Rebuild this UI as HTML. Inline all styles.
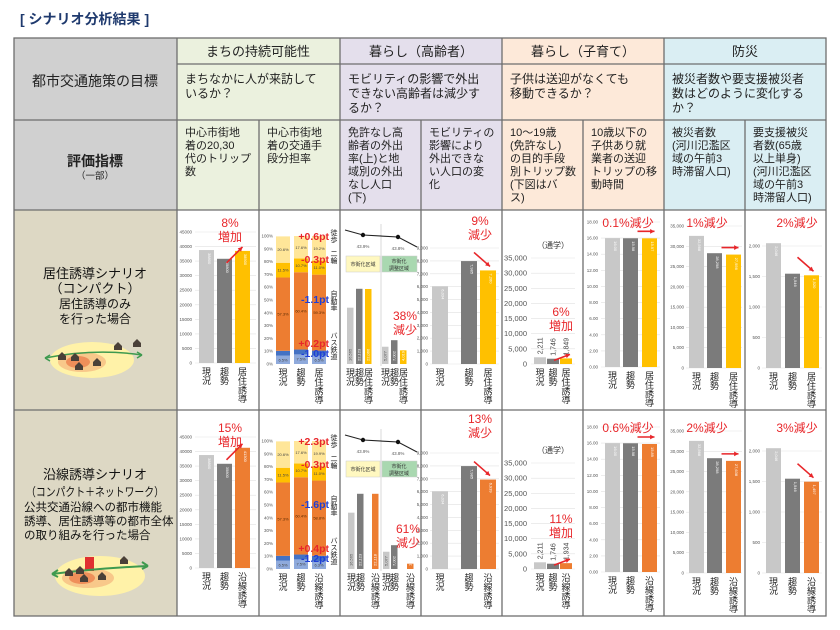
<!DOCTYPE html>
<html><head><meta charset="utf-8">
<style>
html,body{margin:0;padding:0;background:#fff;}
svg{display:block;font-family:"Liberation Sans","Noto Sans CJK JP",sans-serif;}
</style></head>
<body>
<svg id="root" width="840" height="630" viewBox="0 0 840 630" xmlns="http://www.w3.org/2000/svg">
<text x="20" y="24" font-size="14" font-weight="bold" fill="#1f3a6e">[ シナリオ分析結果 ]</text>
<g>
<rect x="14" y="38" width="163" height="172" fill="#d0d0d0"/>
<rect x="14" y="210" width="163" height="406" fill="#ddd8c4"/>
<rect x="177" y="38" width="163" height="172" fill="#ebf1de"/>
<rect x="340" y="38" width="162" height="172" fill="#e4dfec"/>
<rect x="502" y="38" width="162" height="172" fill="#fde9d9"/>
<rect x="664" y="38" width="162" height="172" fill="#daeef3"/>
</g>
<g stroke="#6e6e6e" stroke-width="1.3" fill="none">
<rect x="14" y="38" width="812" height="578"/>
<line x1="177" y1="64" x2="826" y2="64"/>
<line x1="14" y1="120" x2="826" y2="120"/>
<line x1="14" y1="210" x2="826" y2="210"/>
<line x1="14" y1="410" x2="826" y2="410"/>
<line x1="177" y1="38" x2="177" y2="616"/>
<line x1="340" y1="38" x2="340" y2="616"/>
<line x1="502" y1="38" x2="502" y2="616"/>
<line x1="664" y1="38" x2="664" y2="616"/>
<line x1="259" y1="120" x2="259" y2="616"/>
<line x1="421" y1="120" x2="421" y2="616"/>
<line x1="583" y1="120" x2="583" y2="616"/>
<line x1="745" y1="120" x2="745" y2="616"/>
</g>
<g fill="#222">
<text x="95" y="86" font-size="14" text-anchor="middle">都市交通施策の目標</text>
<text x="95" y="166" font-size="14" font-weight="bold" text-anchor="middle">評価指標</text>
<text x="95" y="179" font-size="9.5" text-anchor="middle">（一部）</text>
<text x="258" y="56" font-size="13" text-anchor="middle">まちの持続可能性</text>
<text x="421" y="56" font-size="13" text-anchor="middle">暮らし（高齢者）</text>
<text x="583" y="56" font-size="13" text-anchor="middle">暮らし（子育て）</text>
<text x="745" y="56" font-size="13" text-anchor="middle">防災</text>
</g>
<g id="texts" font-size="12" fill="#222"></g>
<g fill="#111">
<text x="95" y="278" font-size="13" text-anchor="middle">居住誘導シナリオ</text>
<text x="95" y="293" font-size="13" text-anchor="middle">（コンパクト）</text>
<text x="95" y="308" font-size="12" text-anchor="middle">居住誘導のみ</text>
<text x="95" y="323" font-size="12" text-anchor="middle">を行った場合</text>
<text x="95" y="479" font-size="13" text-anchor="middle">沿線誘導シナリオ</text>
<text x="26" y="496" font-size="12" textLength="138" lengthAdjust="spacingAndGlyphs">（コンパクト＋ネットワーク）</text>
<text x="24" y="511" font-size="11.5">公共交通沿線への都市機能</text>
<text x="24" y="525" font-size="11.5">誘導、居住誘導等の都市全体</text>
<text x="24" y="539" font-size="11.5">の取り組みを行った場合</text>
</g>
<g>
<ellipse cx="92" cy="360" rx="42" ry="18" fill="#fff2a8"/>
<ellipse cx="82" cy="362" rx="24" ry="10" fill="#f8c88a"/>
<ellipse cx="78" cy="362" rx="12" ry="6" fill="#ef8f5a"/>
<path d="M45 358 Q95 348 142 355" stroke="#3e9a4f" stroke-width="1.5" fill="none"/>
<path d="M45 358 l5 -3 m-5 3 l5 3 M142 355 l-5 -3 m5 3 l-5 3" stroke="#3e9a4f" stroke-width="1.5"/>
<g fill="#4a4038"><path d="M58 356 l4 -4 4 4 v4 h-8z"/><path d="M71 357 l4 -4 4 4 v4 h-8z"/><path d="M75 366 l4 -4 4 4 v4 h-8z"/><path d="M93 362 l4 -4 4 4 v4 h-8z"/><path d="M114 346 l4 -4 4 4 v4 h-8z"/><path d="M133 343 l4 -4 4 4 v4 h-8z"/></g>
</g>
<g>
<ellipse cx="100" cy="576" rx="45" ry="20" fill="#fff2a8"/>
<ellipse cx="88" cy="578" rx="26" ry="10" fill="#f8c88a"/>
<ellipse cx="82" cy="578" rx="13" ry="6" fill="#ef8f5a"/>
<rect x="85" y="557" width="9" height="14" fill="#e03030"/>
<path d="M52 574 Q100 568 148 566" stroke="#3e9a4f" stroke-width="2" fill="none"/>
<path d="M52 574 l6 -4 m-6 4 l6 3 M148 566 l-6 -4 m6 4 l-6 3" stroke="#3e9a4f" stroke-width="2"/>
<g fill="#4a4038"><path d="M65 572 l4 -4 4 4 v4 h-8z"/><path d="M76 570 l4 -4 4 4 v4 h-8z"/><path d="M80 578 l4 -4 4 4 v4 h-8z"/><path d="M98 576 l4 -4 4 4 v4 h-8z"/><path d="M120 560 l4 -4 4 4 v4 h-8z"/></g>
</g>
<g id="charts"></g>
</svg>
<script>
// ---- data ----
const barCats = ['現況','趨勢'];
const thirdCatS1 = '居住誘導';
const thirdCatS2 = '沿線誘導';
const tripsS1 = [38800, 35800, 38500];
const tripsS2 = [38800, 35800, 41300];
const tripsTicks = [0,5000,10000,15000,20000,25000,30000,35000,40000,45000];
const modeNames = ['鉄道','バス','自動車','二輪','徒歩'];
const modeS1 = [[6.5,3.8,57.3,11.5,20.6],[7.5,3.8,60.4,10.7,17.6],[6.5,4.0,59.3,11.0,19.2]];
const modeS2 = [[6.5,3.8,57.3,11.5,20.6],[7.5,3.8,60.4,10.7,17.6],[6.3,4.0,58.8,11.0,19.9]];
const modeTicks = [0,10,20,30,40,50,60,70,80,90,100];
const outRate = [43.9, 43.8];
const urbanS1 = [16565, 22123, 22066];
const adjustS1 = [5077, 7002, 4019];
const urbanS2 = [16565, 22123, 22118];
const adjustS2 = [5077, 7002, 1560];
const noOutS1 = [6034, 7985, 7260];
const noOutS2 = [6034, 7985, 6939];
const noOutTicks = [0,1000,2000,3000,4000,5000,6000,7000,8000,9000];
const schoolS1 = [2211, 1746, 1849];
const schoolS2 = [2211, 1746, 1934];
const schoolTicks = [0,5000,10000,15000,20000,25000,30000,35000];
const pickupS1 = [16.00, 15.98, 15.97];
const pickupS2 = [16.00, 15.98, 15.89];
const pickupTicks = [0,2,4,6,8,10,12,14,16,18];
const victimS1 = [32568, 28298, 27956];
const victimS2 = [32568, 28298, 27638];
const victimTicks = [0,5000,10000,15000,20000,25000,30000,35000];
const supportS1 = [2046, 1546, 1520];
const supportS2 = [2046, 1546, 1497];
const supportTicks = [0,500,1000,1500,2000];
const notesS1 = ['8%|増加','9%|減少','38%|減少','6%|増加','0.1%減少','1%減少','2%減少'];
const notesS2 = ['15%|増加','13%|減少','61%|減少','11%|増加','0.6%減少','2%減少','3%減少'];
const modeNotesS1 = ['+0.6pt','-0.3pt','-1.1pt','+0.2pt','-1.0pt'];
const modeNotesS2 = ['+2.3pt','-0.3pt','-1.6pt','+0.4pt','-1.2pt'];

const NS = 'http://www.w3.org/2000/svg';
const root = document.getElementById('charts');
function el(tag, attrs, parent){ const e=document.createElementNS(NS,tag); for(const k in attrs) e.setAttribute(k,attrs[k]); (parent||root).appendChild(e); return e; }
const comma = v => v.toLocaleString('en-US');
const C_NOW='#c8c8c8', C_TREND='#7b7b7b', C_S1='#ffc000', C_S2='#ed7d31', RED='#e8262a';

// ---- header texts ----
const tg = document.getElementById('texts');
const goals = [
 [185,['まちなかに人が来訪して','いるか？']],
 [348,['モビリティの影響で外出','できない高齢者は減少す','るか？']],
 [510,['子供は送迎がなくても','移動できるか？']],
 [672,['被災者数や要支援被災者','数はどのように変化する','か？']]];
goals.forEach(g=>{ g[1].forEach((s,i)=>{ const t=el('text',{x:g[0],y:83+i*14.5,'font-size':12},tg); t.textContent=s;
 
  }); });
const inds = [
 [185,['中心市街地','着の20,30','代のトリップ','数']],
 [267,['中心市街地','着の交通手','段分担率']],
 [348,['免許なし高','齢者の外出','率(上)と地','域別の外出','なし人口','(下)']],
 [429,['モビリティの','影響により','外出できな','い人口の変','化']],
 [510,['10～19歳','(免許なし)','の目的手段','別トリップ数','(下図はバ','ス)']],
 [591,['10歳以下の','子供あり就','業者の送迎','トリップの移','動時間']],
 [672,['被災者数','(河川氾濫区','域の午前3','時滞留人口)']],
 [753,['要支援被災','者数(65歳','以上単身)','(河川氾濫区','域の午前3','時滞留人口)']]];
inds.forEach(g=>{ g[1].forEach((s,i)=>{ const t=el('text',{x:g[0],y:136+i*13,'font-size':11},tg); t.textContent=s;
 
  }); });

function vtext(cx, y0, str, step, fs, parent){
  [...str].forEach((ch,i)=>{ const t=el('text',{x:cx,y:y0+i*step,'font-size':fs,'text-anchor':'middle',fill:'#222'},parent); t.textContent=ch;
    
     });
}
function note(x, y, str, parent, size){
  str.split('|').forEach((s,i)=>{ const t=el('text',{x:x,y:y+i*14,'font-size':size||12,'text-anchor':'middle',fill:RED},parent); t.textContent=s;
    
     });
}
function arrow(x1,y1,x2,y2,parent){
  const a=el('line',{x1:x1,y1:y1,x2:x2,y2:y2,stroke:RED,'stroke-width':1.6},parent);
  
  
  const ang=Math.atan2(y2-y1,x2-x1), L=5;
  const p=el('polygon',{points:`${x2},${y2} ${x2-L*Math.cos(ang-0.5)},${y2-L*Math.sin(ang-0.5)} ${x2-L*Math.cos(ang+0.5)},${y2-L*Math.sin(ang+0.5)}`,fill:RED},parent);
  
  
}

function barChart(o){
  const g=el('g',{});
  
  
  const ymax=o.ticks[o.ticks.length-1];
  const y=v=>o.bottom-v/ymax*(o.bottom-o.top);
  o.ticks.forEach(tv=>{
    const ln=el('line',{x1:o.gx1,x2:o.gx2,y1:y(tv),y2:y(tv),stroke:'#e2e2e2','stroke-width':0.6},g);
    
    
    const t=el('text',{x:o.lx,y:y(tv)+(o.tfs||4.5)/3,'font-size':o.tfs||4.5,'text-anchor':'end',fill:'#555'},g);
    t.textContent=o.fmt(tv);
    
    
  });
  const cols=[C_NOW,C_TREND,o.c3];
  o.values.forEach((v,i)=>{
    const r=el('rect',{x:o.bx[i],y:y(v),width:o.bw,height:o.bottom-y(v),fill:cols[i]},g);
    
    
    const cx=o.bx[i]+o.bw/2;
    if(o.outside){
      const t=el('text',{x:0,y:0,'font-size':7,fill:'#444','text-anchor':'start',transform:`translate(${cx+2.5},${y(v)-3}) rotate(-90)`},g);
      t.textContent=comma(v);
      
      
    } else {
      const t=el('text',{x:0,y:0,'font-size':4,fill:'#fff','text-anchor':'start',transform:`translate(${cx+1.5},${y(v)+3}) rotate(90)`},g);
      t.textContent=o.vfmt(v);
      
      
    }
    vtext(cx,o.bottom+12,o.cats[i],9,9,g);
  });
  const top3=y(o.values[2]), cx3=o.bx[2]+o.bw/2;
  note(o.nx,o.ny,o.noteText,g);
  if(o.arrow==='up') arrow(cx3-16,top3+12,cx3,top3-4,g);
  else if(o.arrow==='flat') arrow(cx3-12,top3-7,cx3+5,top3-7,g);
  else if(o.arrow==='down') arrow(cx3-14,top3-18,cx3+2,top3-4,g);
  else if(o.arrow==='tiny') arrow(cx3-12,top3+2,cx3+4,top3-4,g);
}

function modeChart(o){
  const g=el('g',{});
  
  
  const y=v=>o.bottom-v/100*(o.bottom-o.top);
  const colors=['#8faadc','#4472c4','#ed7d31','#ffc000','#ffe699'];
  modeTicks.forEach(tv=>{
    const t=el('text',{x:o.lx,y:y(tv)+1.5,'font-size':4.5,'text-anchor':'end',fill:'#555'},g);
    t.textContent=tv+'%';
    
    
  });
  o.data.forEach((row,i)=>{
    let acc=0; const bx=o.bx[i];
    row.forEach((v,j)=>{
      const r=el('rect',{x:bx,y:y(acc+v),width:o.bw,height:y(acc)-y(acc+v),fill:colors[j]},g);
      
      
      if(j!==1){
        const t=el('text',{x:bx+o.bw/2,y:(y(acc)+y(acc+v))/2+1.5,'font-size':4,'text-anchor':'middle',fill:j===2?'#5a2a00':'#444'},g);
        t.textContent=v.toFixed(1)+'%';
        
        
      }
      acc+=v;
    });
    vtext(bx+o.bw/2,o.bottom+12,o.cats[i],9,9,g);
  });
  const legY=[[4,241],[3,262],[2,302],[1,344],[0,358]];
  legY.forEach(([j,yy])=>{ vtext(334,yy+o.dy-6,modeNames[j],7,7,g); });
  const noteY=[240,263,303,347,357], noteC=[RED,RED,'#1f3fd6',RED,'#1f3fd6'];
  o.notes.forEach((s,i)=>{
    const t=el('text',{x:329,y:noteY[i]+o.dy,'font-size':10.5,'font-weight':'bold','text-anchor':'end',fill:noteC[i]},g);
    t.textContent=s;
    
    
  });
}

function elderlyChart(o){
  const g=el('g',{});
  
  
  const dy=o.dy;
  const ln1=el('line',{x1:381,y1:224+dy,x2:381,y2:366+dy,stroke:'#cfcfcf','stroke-width':0.8},g);
  
  
  const ry=v=>236+dy-(v-43.85)*20;
  const px=[363,398];
  const pl=el('polyline',{points:`345,${ry(outRate[0])-5} ${px[0]},${ry(outRate[0])} ${px[1]},${ry(outRate[1])} 417,${ry(outRate[1])+10}`,fill:'none',stroke:'#222','stroke-width':1.1},g);
  
  
  outRate.forEach((v,i)=>{
    const c=el('circle',{cx:px[i],cy:ry(v),r:2.2,fill:'#111'},g);
    
    
    const t=el('text',{x:px[i],y:ry(v)+13,'font-size':4.5,'text-anchor':'middle',fill:'#555'},g);
    t.textContent=v.toFixed(1)+'%';
    
    
  });
  const b1=el('rect',{x:346,y:256+dy,width:34,height:16,fill:'#fff8c0',stroke:'#ccc','stroke-width':0.5},g);
  
  
  const t1=el('text',{x:363,y:266+dy,'font-size':5,'text-anchor':'middle',fill:'#333'},g); t1.textContent='市街化区域';
  
  
  const b2=el('rect',{x:382,y:256+dy,width:35,height:16,fill:'#a9d8b0',stroke:'#ccc','stroke-width':0.5},g);
  
  
  const t2=el('text',{x:399,y:263+dy,'font-size':5,'text-anchor':'middle',fill:'#333'},g); t2.textContent='市街化';
  
  
  const t3=el('text',{x:399,y:270+dy,'font-size':5,'text-anchor':'middle',fill:'#333'},g); t3.textContent='調整区域';
  
  
  const bottom=364+dy, k=0.0034;
  const cols=[C_NOW,C_TREND,o.c3];
  const drawSet=(vals,xs)=>{ vals.forEach((v,i)=>{
    const r=el('rect',{x:xs[i],y:bottom-v*k,width:6.5,height:v*k,fill:cols[i]},g);
    
    
    const t=el('text',{x:0,y:0,'font-size':4,fill:i===0?'#555':'#fff',transform:`translate(${xs[i]+4.5},${bottom-3}) rotate(-90)`},g);
    t.textContent=comma(v);
    
    
  }); };
  drawSet(o.urban,o.ux); drawSet(o.adjust,o.ax);
  o.ux.concat(o.ax).forEach((x,i)=>{ vtext(x+3.5,bottom+12,o.cats[i%3],9,9,g); });
  note(o.nx,o.ny,o.noteText,g);
}

const fmtPlain = v=>String(v), fmt2=v=>v.toFixed(2);
[[0,tripsS1,noOutS1,schoolS1,pickupS1,victimS1,supportS1,modeS1,modeNotesS1,urbanS1,adjustS1,C_S1,thirdCatS1,notesS1,'s1'],
 [205,tripsS2,noOutS2,schoolS2,pickupS2,victimS2,supportS2,modeS2,modeNotesS2,urbanS2,adjustS2,C_S2,thirdCatS2,notesS2,'s2']]
.forEach(([dy,trips,noOut,school,pickup,victim,support,mode,mnotes,urban,adjust,c3,cat3,notes,sid])=>{
  const cats=[barCats[0],barCats[1],cat3];
  barChart({name:sid+'-trips-chart',ticks:tripsTicks,fmt:fmtPlain,vfmt:fmtPlain,top:232+dy,bottom:363+dy,lx:192,gx1:195,gx2:256,bx:[199,217,235],bw:15,values:trips,c3:c3,cats:cats,nx:230,ny:227+dy,noteText:notes[0],arrow:'up'});
  modeChart({name:sid+'-mode-share-chart',data:mode,top:236+dy,bottom:364+dy,lx:273,bx:[276,294,312],bw:14,cats:cats,dy:dy,notes:mnotes});
  elderlyChart({name:sid+'-elderly-chart',dy:dy,urban:urban,adjust:adjust,c3:c3,cats:cats,
    ux: sid==='s1'?[347,356,365]:[348,357,372], ax: sid==='s1'?[382,391,400]:[383,391,407],
    nx:sid==='s1'?405:408, ny:(sid==='s1'?320:533-205)+dy, noteText:notes[2]});
  barChart({name:sid+'-no-outing-chart',ticks:noOutTicks,fmt:comma,vfmt:comma,top:248+dy,bottom:364+dy,lx:428,gx1:430,gx2:499,bx:[432,461,480],bw:16,values:noOut,c3:c3,cats:cats,nx:480,ny:(sid==='s1'?225:218)+dy,noteText:notes[1],arrow:'down'});
  barChart({name:sid+'-school-trip-chart',ticks:schoolTicks,fmt:comma,vfmt:comma,tfs:7.5,top:258+dy,bottom:364+dy,lx:527,gx1:531,gx2:575,bx:[534,547,560],bw:12,values:school,c3:c3,cats:cats,nx:561,ny:(sid==='s1'?316:318)+dy,noteText:notes[3],arrow:'tiny',outside:true});
  const sc=el('text',{x:553,y:248+dy,'font-size':8,'text-anchor':'middle',fill:'#333'});
  sc.textContent='（通学）';
  
  
  barChart({name:sid+'-pickup-time-chart',ticks:pickupTicks,fmt:fmt2,vfmt:fmt2,top:222+dy,bottom:367+dy,lx:598,gx1:601,gx2:660,bx:[605,623,642],bw:15,values:pickup,c3:c3,cats:cats,nx:628,ny:227+dy,noteText:notes[4],arrow:'flat'});
  barChart({name:sid+'-victims-chart',ticks:victimTicks,fmt:comma,vfmt:comma,top:226+dy,bottom:368+dy,lx:684,gx1:686,gx2:742,bx:[689,707,726],bw:15,values:victim,c3:c3,cats:cats,nx:707,ny:227+dy,noteText:notes[5],arrow:'flat'});
  barChart({name:sid+'-support-victims-chart',ticks:supportTicks,fmt:comma,vfmt:comma,top:246+dy,bottom:368+dy,lx:760,gx1:762,gx2:822,bx:[766,785,804],bw:15,values:support,c3:c3,cats:cats,nx:797,ny:227+dy,noteText:notes[6],arrow:'down'});
});
</script>
</body></html>
